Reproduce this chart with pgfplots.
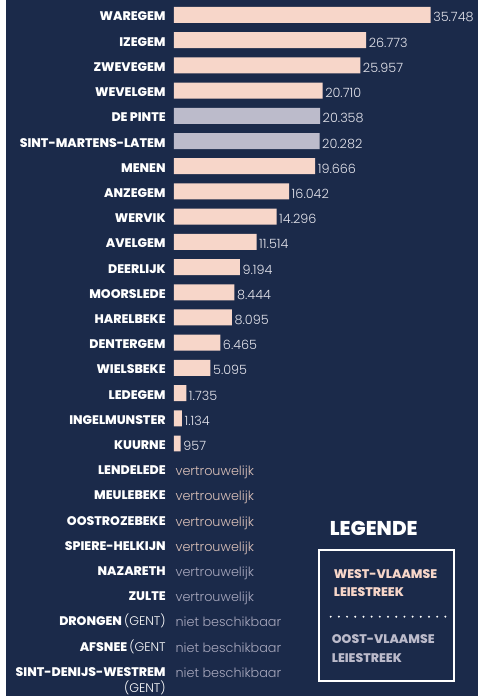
\documentclass[border=0pt]{standalone}
\usepackage{pgfplots}
\pgfplotsset{compat=1.18}
\usepackage{pgfplotstable}
\usepackage{fontspec}
\setmainfont{Poppins}
\newfontfamily\lightfont{Poppins Light}
\newfontfamily\heavyfont{Poppins ExtraBold}
\definecolor{navy}{HTML}{1B2A4A}
\definecolor{pinkbar}{HTML}{F7D6C9}
\definecolor{greybar}{HTML}{BCBBCB}
\definecolor{valtext}{HTML}{E4E4EC}
\definecolor{pinktext}{HTML}{DCC2BA}
\definecolor{greytext}{HTML}{A9A9BE}

\pgfplotstableread{
x y label
35748 0 35.748
26773 1 26.773
25957 2 25.957
20710 3 20.710
19666 6 19.666
16042 7 16.042
14296 8 14.296
11514 9 11.514
9194 10 9.194
8444 11 8.444
8095 12 8.095
6465 13 6.465
5095 14 5.095
1735 15 1.735
1134 16 1.134
957 17 957
}\westbars

\pgfplotstableread{
x y label
20358 4 20.358
20282 5 20.282
}\oostbars

\pgfplotstableread{
x y label
0 18 vertrouwelijk
0 19 vertrouwelijk
0 20 vertrouwelijk
0 21 vertrouwelijk
}\westtext

\pgfplotstableread{
x y label
0 22 vertrouwelijk
0 23 vertrouwelijk
0 24 {niet beschikbaar}
0 25 {niet beschikbaar}
0 26 {niet beschikbaar}
}\oosttext

\begin{document}
\begin{tikzpicture}
\fill[white] (0pt,0pt) rectangle (478pt,697pt);
\fill[navy] (6pt,0pt) rectangle (478pt,697pt);
\begin{axis}[
  at={(174pt,682pt)}, anchor=north west,
  scale only axis, width=257pt, height=656pt,
  xmin=0, xmax=35748, ymin=0, ymax=26, y dir=reverse,
  enlargelimits=false, clip=false,
  axis line style={draw=none}, major tick length=0pt,
  xtick=\empty, ytick={0,1,...,26},
  yticklabels={WAREGEM, IZEGEM, ZWEVEGEM, WEVELGEM, DE PINTE, SINT-MARTENS-LATEM,
    MENEN, ANZEGEM, WERVIK, AVELGEM, DEERLIJK, MOORSLEDE, HARELBEKE, DENTERGEM,
    WIELSBEKE, LEDEGEM, INGELMUNSTER, KUURNE, LENDELEDE, MEULEBEKE, OOSTROZEBEKE,
    SPIERE-HELKIJN, NAZARETH, ZULTE,
    {DRONGEN\,{\lightfont(GENT)}},
    {AFSNEE\,{\lightfont(GENT}},
    {\begin{tabular}[t]{@{}r@{}}SINT-DENIJS-WESTREM\\[0pt]{\lightfont(GENT)}\end{tabular}}},
  yticklabel style={anchor=base east, inner sep=0pt, xshift=-8pt, yshift=-6pt,
    text=white, font=\heavyfont\fontsize{12.5}{15}\selectfont},
  nodes near coords align={anchor=base west},
  every node near coord/.append style={inner sep=0pt, xshift=2.5pt, yshift=-7pt,
    font=\lightfont\fontsize{12.8}{15}\selectfont},
]
\addplot[xbar, bar width=16pt, bar shift=0pt, fill=pinkbar, draw=none,
  nodes near coords, point meta=explicit symbolic,
  every node near coord/.append style={text=valtext}]
  table[x=x, y=y, meta=label] {\westbars};
\addplot[xbar, bar width=16pt, bar shift=0pt, fill=greybar, draw=none,
  nodes near coords, point meta=explicit symbolic,
  every node near coord/.append style={text=valtext}]
  table[x=x, y=y, meta=label] {\oostbars};
\addplot[draw=none, mark=none, nodes near coords, point meta=explicit symbolic,
  every node near coord/.append style={text=pinktext, xshift=-1pt}]
  table[x=x, y=y, meta=label] {\westtext};
\addplot[draw=none, mark=none, nodes near coords, point meta=explicit symbolic,
  every node near coord/.append style={text=greytext, xshift=-1pt}]
  table[x=x, y=y, meta=label] {\oosttext};
\end{axis}
% legend
\node[anchor=base west, inner sep=0pt, text=white, font=\heavyfont\fontsize{20}{22}\selectfont]
  at (330pt,161pt) {LEGENDE};
\draw[white, line width=2pt] (319pt,146pt) rectangle (454.7pt,15.5pt);
\node[anchor=base west, inner sep=0pt, text=pinkbar, font=\heavyfont\fontsize{12.5}{14}\selectfont]
  at (334pt,118pt) {WEST-VLAAMSE};
\node[anchor=base west, inner sep=0pt, text=pinkbar, font=\heavyfont\fontsize{12.5}{14}\selectfont]
  at (334pt,99.5pt) {LEIESTREEK};
\draw[white, line width=2.2pt, line cap=round, dash pattern=on 0pt off 8.2pt]
  (331pt,79.7pt) -- (448pt,79.7pt);
\node[anchor=base west, inner sep=0pt, text=greybar, font=\heavyfont\fontsize{12.5}{14}\selectfont]
  at (332pt,53pt) {OOST-VLAAMSE};
\node[anchor=base west, inner sep=0pt, text=greybar, font=\heavyfont\fontsize{12.5}{14}\selectfont]
  at (332pt,34pt) {LEIESTREEK};
\end{tikzpicture}
\end{document}
